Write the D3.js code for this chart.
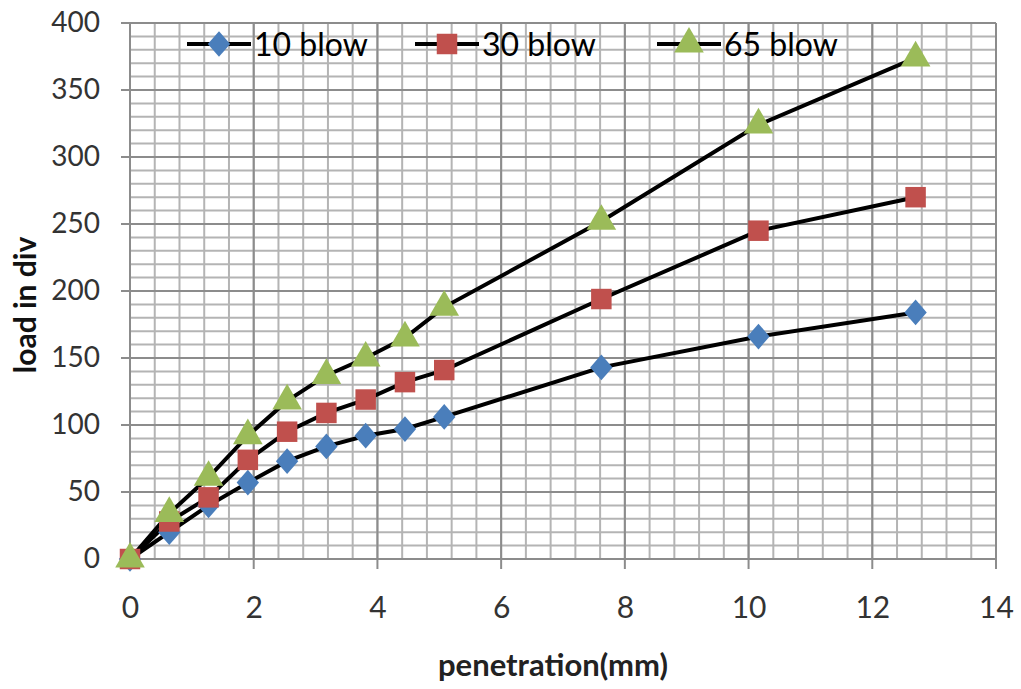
<!DOCTYPE html>
<html>
<head>
<meta charset="utf-8">
<script src="https://cdn.jsdelivr.net/npm/d3@7"></script>
<style>
  body { margin: 0; background: #fff; }
  text { font-family: Lato, "Open Sans", sans-serif; }
</style>
</head>
<body>
<svg id="chart"></svg>
<script>
// penetration (mm) and load readings (div)
var penetration = [0, 0.635, 1.27, 1.905, 2.54, 3.175, 3.81, 4.445, 5.08, 7.62, 10.16, 12.7];
var blow10 = [0, 20, 40, 57, 73, 84, 92, 97, 106, 143, 166, 184];
var blow30 = [0, 28, 46, 74, 95, 109, 119, 132, 141, 194, 245, 270];
var blow65 = [0, 34, 61, 92, 118, 137, 150, 165, 188, 252, 324, 374];
var seriesNames = ["10 blow", "30 blow", "65 blow"];
var xTicks = [0, 2, 4, 6, 8, 10, 12, 14];
var yTicks = [0, 50, 100, 150, 200, 250, 300, 350, 400];

drawChart("#chart");

function drawChart(id){
	var svgWidth = 1021;
	var svgHeight = 689;
	var left = 130, right = 996, top = 23, bottom = 559;
	var colorArr = ['#4a7ebb', '#c0504d', '#9bbb59'];
	// diamond = square turned 45deg and stretched a bit
	var shapes = [d3.symbolSquare, d3.symbolSquare, d3.symbolTriangle];
	var sizes = [250, 420, 380];

	var svg = d3.select(id)
		.attr("width", svgWidth)
		.attr("height", svgHeight);

	var x = d3.scaleLinear().domain([0, 14]).range([left, right]);
	var y = d3.scaleLinear().domain([0, 400]).range([bottom, top]);

	// minor grid
	var g = svg.append("g");
	g.selectAll(".hminor")
		.data(d3.range(0, 401, 10))
		.enter().append("line")
		.attr("x1", left).attr("x2", right)
		.attr("y1", function(d){ return y(d); })
		.attr("y2", function(d){ return y(d); })
		.attr("stroke", "#b4b4b4")
		.attr("stroke-width", 2);
	g.selectAll(".vminor")
		.data(d3.range(0, 14.01, 0.4))
		.enter().append("line")
		.attr("y1", top).attr("y2", bottom)
		.attr("x1", function(d){ return x(d); })
		.attr("x2", function(d){ return x(d); })
		.attr("stroke", "#b4b4b4")
		.attr("stroke-width", 2);
	// major grid
	g.selectAll(".hmajor")
		.data(yTicks)
		.enter().append("line")
		.attr("x1", left - 9).attr("x2", right)
		.attr("y1", function(d){ return y(d); })
		.attr("y2", function(d){ return y(d); })
		.attr("stroke", "#8c8c8c")
		.attr("stroke-width", 2);
	g.selectAll(".vmajor")
		.data(xTicks)
		.enter().append("line")
		.attr("y1", top).attr("y2", bottom + 10)
		.attr("x1", function(d){ return x(d); })
		.attr("x2", function(d){ return x(d); })
		.attr("stroke", "#8c8c8c")
		.attr("stroke-width", 2);

	// axes labels
	var yAxis = d3.axisLeft(y).tickValues(yTicks).tickSize(0).tickPadding(30);
	var ya = svg.append("g").attr("transform", "translate(" + left + ",0)").call(yAxis);
	ya.select(".domain").remove();
	ya.selectAll("text")
		.attr("font-size", "28px")
		.attr("fill", "#333")
		.style("font-family", "Lato, sans-serif");

	var xAxis = d3.axisBottom(x).tickValues(xTicks).tickSize(0).tickPadding(38);
	var xa = svg.append("g").attr("transform", "translate(0," + bottom + ")").call(xAxis);
	xa.select(".domain").remove();
	xa.selectAll("text")
		.attr("font-size", "30px")
		.attr("fill", "#333")
		.style("font-family", "Lato, sans-serif");

	svg.append("text")
		.attr("x", 553).attr("y", 676)
		.attr("text-anchor", "middle")
		.attr("font-size", "31px")
		.attr("font-weight", "bold")
		.attr("fill", "#222")
		.text("penetration(mm)");

	svg.append("text")
		.attr("transform", "translate(36,305) rotate(-90)")
		.attr("text-anchor", "middle")
		.attr("font-size", "30px")
		.attr("font-weight", "bold")
		.attr("fill", "#111")
		.text("load in div");

	// series
	var allSeries = [blow10, blow30, blow65];
	var line = d3.line()
		.x(function(d, i){ return x(penetration[i]); })
		.y(function(d){ return y(d); });

	allSeries.forEach(function(s, k){
		svg.append("path")
			.attr("d", line(s))
			.attr("fill", "none")
			.attr("stroke", "#000")
			.attr("stroke-width", 4);
	});
	allSeries.forEach(function(s, k){
		svg.selectAll(".m" + k)
			.data(s)
			.enter().append("path")
			.attr("d", d3.symbol().type(shapes[k]).size(sizes[k]))
			.attr("transform", function(d, i){
				var t = "translate(" + x(penetration[i]) + "," + y(d) + ")";
				return k === 0 ? t + " scale(1,1.15) rotate(45)" : t;
			})
			.attr("fill", colorArr[k]);
	});

	// legend
	var legendX = [187, 415, 657];
	var lg = svg.selectAll(".legend")
		.data(seriesNames)
		.enter().append("g")
		.attr("transform", function(d, i){ return "translate(" + legendX[i] + ",44)"; });
	lg.append("line")
		.attr("x1", 0).attr("x2", 64)
		.attr("y1", 0).attr("y2", 0)
		.attr("stroke", "#000")
		.attr("stroke-width", 4);
	lg.append("path")
		.attr("d", function(d, i){ return d3.symbol().type(shapes[i]).size(sizes[i])(); })
		.attr("transform", function(d, i){ return i === 0 ? "translate(32,0) scale(1,1.15) rotate(45)" : "translate(32,0)"; })
		.attr("fill", function(d, i){ return colorArr[i]; });
	lg.append("text")
		.attr("x", 67).attr("y", 12)
		.attr("font-size", "32px")
		.attr("fill", "#000")
		.text(function(d){ return d; });
}
</script>
</body>
</html>
